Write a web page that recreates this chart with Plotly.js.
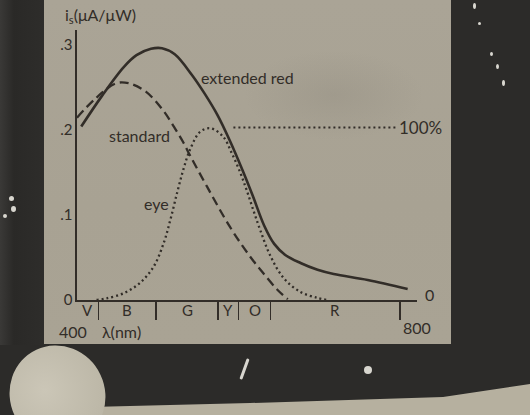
<!DOCTYPE html>
<html>
<head>
<meta charset="utf-8">
<script src="https://cdn.plot.ly/plotly-3.0.1.min.js"></script>
<style>
  html, body { margin: 0; padding: 0; }
  body { width: 530px; height: 415px; overflow: hidden; position: relative;
         background: #2c2b29; }
  .bg { position: absolute; }
  #darkleft { left: 0; top: 0; width: 45px; height: 345px;
              background: linear-gradient(90deg, #3a3937 0px, #2a2927 14px, #2e2d2b 45px); }
  #paper { left: 44px; top: 0; width: 407px; height: 344px;
           background: radial-gradient(ellipse 90px 45px at 290px 95px, rgba(120,115,105,0.18), rgba(0,0,0,0)),
                       linear-gradient(180deg, #aaa496 0%, #a8a293 60%, #a9a394 100%); }
  #strip { left: 0; top: 0; width: 530px; height: 415px; background: #b6b09f;
           clip-path: polygon(90px 407px, 250px 403px, 443px 397px, 530px 384px, 530px 415px, 90px 415px); }
  #blob { left: 10px; top: 345px; width: 95px; height: 100px; border-radius: 50%;
          background: radial-gradient(ellipse at 40% 40%, #cbc6b7, #bdb8a8 70%, #b2ad9d);
          transform: rotate(-25deg); }
  .spot { position: absolute; background: #d8d6cf; border-radius: 50%; }
  #chart { position: absolute; left: 0; top: 0; width: 530px; height: 415px; }
</style>
</head>
<body>
<div class="bg" id="darkleft"></div>
<div class="bg" id="paper"></div>
<div class="bg" id="strip"></div>
<div class="bg" id="blob"></div>
<div class="spot" style="left:9px;top:196px;width:5px;height:5px;"></div>
<div class="spot" style="left:11px;top:206px;width:5px;height:6px;"></div>
<div class="spot" style="left:3px;top:214px;width:4px;height:4px;"></div>
<div class="spot" style="left:473px;top:3px;width:3px;height:6px;"></div>
<div class="spot" style="left:478px;top:22px;width:3px;height:3px;"></div>
<div class="spot" style="left:490px;top:52px;width:3px;height:4px;"></div>
<div class="spot" style="left:496px;top:64px;width:3px;height:5px;"></div>
<div class="spot" style="left:502px;top:80px;width:3px;height:6px;"></div>
<div class="spot" style="left:364px;top:366px;width:8px;height:8px;"></div>
<div class="spot" style="left:243px;top:358px;width:3px;height:22px;border-radius:2px;transform:rotate(20deg);"></div>
<div id="chart"></div>
<script>
// ---- data ----
// photocurrent sensitivity i_s (uA/uW) vs wavelength (nm)
const extWavelength = [405, 430, 455, 470, 487, 500, 515, 535, 550, 565, 580, 595, 607, 620, 632, 645, 663, 683, 702, 742, 789];
const extendedRed   = [0.204, 0.241, 0.274, 0.288, 0.2955, 0.2962, 0.289, 0.265, 0.243, 0.218, 0.187, 0.152, 0.122, 0.088, 0.066, 0.053, 0.0435, 0.0355, 0.0305, 0.0235, 0.013];

const stdWavelength = [400, 422, 446, 461, 481, 501, 514, 525, 533, 553, 580, 604, 619, 636, 648];
const standard      = [0.2145, 0.2373, 0.2549, 0.2549, 0.2451, 0.2235, 0.2039, 0.1855, 0.170, 0.1333, 0.0859, 0.0506, 0.0318, 0.0118, 0.001];

const eyeWavelength = [423, 435, 455, 474, 490, 502, 510, 518, 525, 533, 545, 557, 572, 582, 592, 600, 608, 616, 627, 643, 663, 683, 694];
const eye           = [0, 0.002, 0.008, 0.020, 0.039, 0.067, 0.095, 0.127, 0.153, 0.177, 0.198, 0.202, 0.1921, 0.1729, 0.150, 0.128, 0.104, 0.081, 0.053, 0.0259, 0.0094, 0.0024, 0];

// 100 % level of the eye curve (dotted reference line)
const refLineX = [584, 776];
const refLineY = [0.203, 0.203];

// colour bands along the wavelength axis
const bandEdges  = [400, 425, 493, 566, 590, 628, 780];
const bandLabels = ['V', 'B', 'G', 'Y', 'O', 'R'];

// axis ticks
const yTickVals = [0, 0.1, 0.2, 0.3];
const yTickText = ['0', '.1', '.2', '.3'];
const xEndVals  = [400, 800];
const xEndText  = ['400', '800'];

// ---- drawing ----
const ink = '#322d28';
const fontFam = 'Lato, "Noto Sans", sans-serif';

const traces = [
  { x: extWavelength, y: extendedRed, mode: 'lines', line: { color: ink, width: 2.6, shape: 'spline', smoothing: 1 }, hoverinfo: 'skip' },
  { x: stdWavelength, y: standard, mode: 'lines', line: { color: ink, width: 2.3, shape: 'spline', smoothing: 1, dash: '9px,5px' }, hoverinfo: 'skip' },
  { x: eyeWavelength, y: eye, mode: 'lines', line: { color: ink, width: 2.3, shape: 'spline', smoothing: 1, dash: '2px,3px' }, hoverinfo: 'skip' },
  { x: refLineX, y: refLineY, mode: 'lines', line: { color: ink, width: 2, dash: '2px,3px' }, hoverinfo: 'skip' }
];

const annotations = [];
for (let i = 0; i < bandLabels.length; i++) {
  annotations.push({ x: (bandEdges[i] + bandEdges[i + 1]) / 2, xref: 'x', y: 0, yref: 'paper',
    yanchor: 'middle', yshift: -10, borderpad: 0, text: bandLabels[i], showarrow: false,
    font: { family: fontFam, size: 15, color: ink } });
}
annotations.push({ x: xEndVals[0], xref: 'x', y: 0, yref: 'paper', yanchor: 'middle', xshift: -4, yshift: -31, borderpad: 0,
  text: xEndText[0], showarrow: false, font: { family: fontFam, size: 16, color: ink } });
annotations.push({ x: xEndVals[1], xref: 'x', y: 0, yref: 'paper', yanchor: 'middle', yshift: -27, borderpad: 0,
  text: xEndText[1], showarrow: false, font: { family: fontFam, size: 16, color: ink } });
annotations.push({ x: 0.07, xref: 'paper', y: 0, yref: 'paper', xanchor: 'left', yanchor: 'middle', yshift: -31, borderpad: 0,
  text: 'λ(nm)', showarrow: false, font: { family: fontFam, size: 16, color: ink } });
annotations.push({ x: -0.042, xref: 'paper', y: 1, yref: 'paper', xanchor: 'left', yanchor: 'middle', yshift: 15,
  text: 'i<sub>s</sub>(μA/μW)', showarrow: false, font: { family: fontFam, size: 16, color: ink } });
annotations.push({ x: 544, xref: 'x', y: 0.262, yref: 'y', xanchor: 'left', yanchor: 'middle',
  text: 'extended red', showarrow: false, font: { family: fontFam, size: 16, color: ink } });
annotations.push({ x: 474, xref: 'x', y: 0.194, yref: 'y', xanchor: 'center', yanchor: 'middle',
  text: 'standard', showarrow: false, font: { family: fontFam, size: 16, color: ink } });
annotations.push({ x: 493, xref: 'x', y: 0.114, yref: 'y', xanchor: 'center', yanchor: 'middle',
  text: 'eye', showarrow: false, font: { family: fontFam, size: 16, color: ink } });
annotations.push({ x: 800, xref: 'x', y: refLineY[0], yref: 'y', xanchor: 'center', yanchor: 'middle', xshift: 3,
  text: '100%', showarrow: false, font: { family: fontFam, size: 17, color: ink } });
annotations.push({ x: 800, xref: 'x', y: 0, yref: 'y', xanchor: 'left', yanchor: 'middle', xshift: 6, yshift: 6,
  text: '0', showarrow: false, font: { family: fontFam, size: 16, color: ink } });

const layout = {
  width: 530, height: 415,
  margin: { l: 77, r: 113, t: 30, b: 115 },
  paper_bgcolor: 'rgba(0,0,0,0)', plot_bgcolor: 'rgba(0,0,0,0)',
  showlegend: false,
  xaxis: { range: [400, 800], showgrid: false, zeroline: false, showline: true, linecolor: ink, linewidth: 1.6,
           tickmode: 'array', tickvals: bandEdges.slice(1), ticks: 'outside', ticklen: 18, tickwidth: 1.4,
           tickcolor: ink, showticklabels: false, fixedrange: true },
  yaxis: { range: [0, 0.3176], showgrid: false, zeroline: false, showline: true, linecolor: ink, linewidth: 1.6,
           tickmode: 'array', tickvals: yTickVals, ticktext: yTickText, ticks: '',
           tickfont: { family: fontFam, size: 15, color: ink }, fixedrange: true },
  yaxis2: { domain: [0, 0.6185], anchor: 'x', side: 'right', showline: true, linecolor: ink, linewidth: 1.6,
            showgrid: false, zeroline: false, showticklabels: false, ticks: '', range: [0, 100], fixedrange: true },
  annotations: annotations
};

Plotly.newPlot('chart', traces, layout, { displayModeBar: false, staticPlot: true });
</script>
</body>
</html>
